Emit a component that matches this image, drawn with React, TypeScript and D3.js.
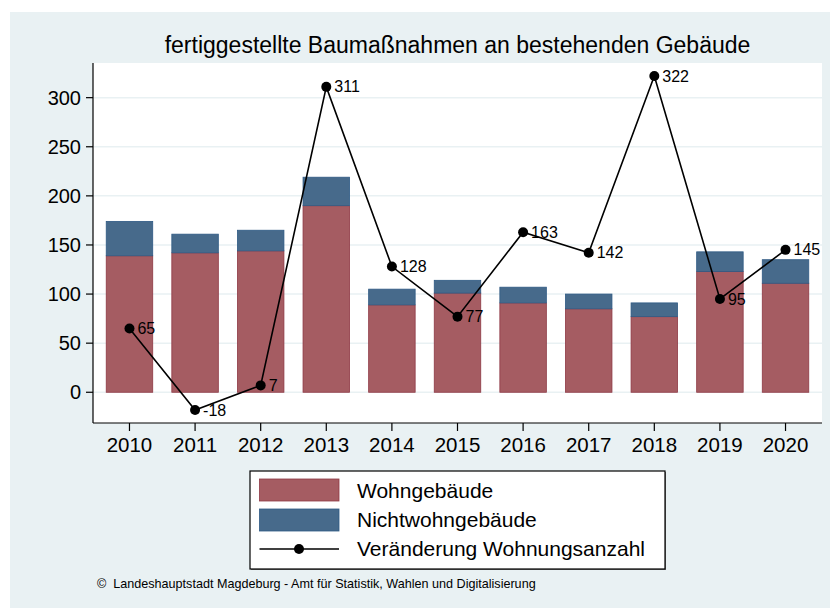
import React from "react";
import * as d3 from "d3";

// values
const years = ["2010", "2011", "2012", "2013", "2014", "2015", "2016", "2017", "2018", "2019", "2020"];
const wohngebaeude = [139, 142, 144, 190, 89, 101, 91, 85, 77, 123, 111];
const nichtwohngebaeude = [35, 19, 21, 29, 16, 13, 16, 15, 14, 20, 24];
const veraenderung = [65, -18, 7, 311, 128, 77, 163, 142, 322, 95, 145];
const yTicks = [0, 50, 100, 150, 200, 250, 300];

const W = 830;
const H = 608;
const plot = { left: 93, right: 822, top: 63, bottom: 423 };
const font = "'Liberation Sans', Arial, Helvetica, sans-serif";

const bg = "#e9f1f3";
const redFill = "#a55c62";
const redStroke = "#8e3945";
const blueFill = "#476a8b";
const blueStroke = "#2f5a84";

export default function App() {
  const x = d3.scalePoint<string>().domain(years).range([plot.left, plot.right]).padding(0.556);
  const y = d3.scaleLinear().domain([-31.3, 335.3]).range([plot.bottom, plot.top]);
  const barW = 46.5;

  const line = d3
    .line<number>()
    .x((_, i) => x(years[i])!)
    .y((d) => y(d));

  return (
    <svg
      width={W}
      height={H}
      style={{ position: "absolute", left: 0, top: 0, fontFamily: font }}
    >
      <rect x={0} y={0} width={W} height={H} fill="#fff" />
      <rect x={10} y={12} width={W - 10} height={H - 12} fill={bg} />
      <rect
        x={plot.left}
        y={plot.top}
        width={plot.right - plot.left}
        height={plot.bottom - plot.top}
        fill="#fff"
      />

      {/* gridlines */}
      {yTicks.map((t) => (
        <line
          key={"g" + t}
          x1={plot.left}
          x2={plot.right}
          y1={y(t)}
          y2={y(t)}
          stroke={bg}
          strokeWidth={1.5}
        />
      ))}

      {/* stacked bars */}
      {years.map((yr, i) => {
        const cx = x(yr)!;
        const w = wohngebaeude[i];
        const n = nichtwohngebaeude[i];
        return (
          <g key={yr}>
            <rect
              x={cx - barW / 2}
              y={y(w)}
              width={barW}
              height={y(0) - y(w)}
              fill={redFill}
              stroke={redStroke}
              strokeWidth={0.8}
            />
            <rect
              x={cx - barW / 2}
              y={y(w + n)}
              width={barW}
              height={y(w) - y(w + n)}
              fill={blueFill}
              stroke={blueStroke}
              strokeWidth={0.8}
            />
          </g>
        );
      })}

      {/* line */}
      <path d={line(veraenderung)!} fill="none" stroke="#000" strokeWidth={1.6} />
      {veraenderung.map((v, i) => (
        <g key={"p" + i}>
          <circle cx={x(years[i])!} cy={y(v)} r={5} fill="#000" />
          <text
            x={x(years[i])! + 8}
            y={y(v)}
            dy="0.35em"
            fontSize={16}
            fill="#000"
          >
            {v}
          </text>
        </g>
      ))}

      {/* axes */}
      <line x1={plot.left} x2={plot.left} y1={plot.top} y2={plot.bottom} stroke="#000" strokeWidth={1.2} />
      <line x1={plot.left} x2={plot.right} y1={plot.bottom} y2={plot.bottom} stroke="#000" strokeWidth={1.2} />
      {yTicks.map((t) => (
        <g key={"y" + t}>
          <line x1={plot.left - 7} x2={plot.left} y1={y(t)} y2={y(t)} stroke="#000" strokeWidth={1.2} />
          <text x={plot.left - 12} y={y(t)} dy="0.36em" textAnchor="end" fontSize={20} fill="#000">
            {t}
          </text>
        </g>
      ))}
      {years.map((yr) => (
        <g key={"x" + yr}>
          <line x1={x(yr)!} x2={x(yr)!} y1={plot.bottom} y2={plot.bottom + 8} stroke="#000" strokeWidth={1.2} />
          <text x={x(yr)!} y={plot.bottom + 29} textAnchor="middle" fontSize={20.5} fill="#000">
            {yr}
          </text>
        </g>
      ))}

      {/* title */}
      <text
        x={(plot.left + plot.right) / 2}
        y={53}
        textAnchor="middle"
        fontSize={23}
        fill="#000"
      >
        fertiggestellte Baumaßnahmen an bestehenden Gebäude
      </text>

      {/* legend */}
      <rect x={251} y={472} width={415} height={98} fill="#777" />
      <rect x={250} y={471} width={415} height={98} fill="#fff" stroke="#000" strokeWidth={1.2} />
      <rect x={259.5} y={479} width={79.5} height={22} fill={redFill} stroke={redStroke} strokeWidth={0.8} />
      <rect x={259.5} y={509} width={79.5} height={22} fill={blueFill} stroke={blueStroke} strokeWidth={0.8} />
      <line x1={259.5} x2={339} y1={549} y2={549} stroke="#000" strokeWidth={1.6} />
      <circle cx={299} cy={549} r={5} fill="#000" />
      <text x={357} y={497.5} fontSize={21} fill="#000">Wohngebäude</text>
      <text x={357} y={527} fontSize={21} fill="#000">Nichtwohngebäude</text>
      <text x={357} y={556} fontSize={21} fill="#000">Veränderung Wohnungsanzahl</text>

      {/* footer */}
      <text x={97} y={588} fontSize={12.6} fill="#000" xmlSpace="preserve">
        ©  Landeshauptstadt Magdeburg - Amt für Statistik, Wahlen und Digitalisierung
      </text>
    </svg>
  );
}
